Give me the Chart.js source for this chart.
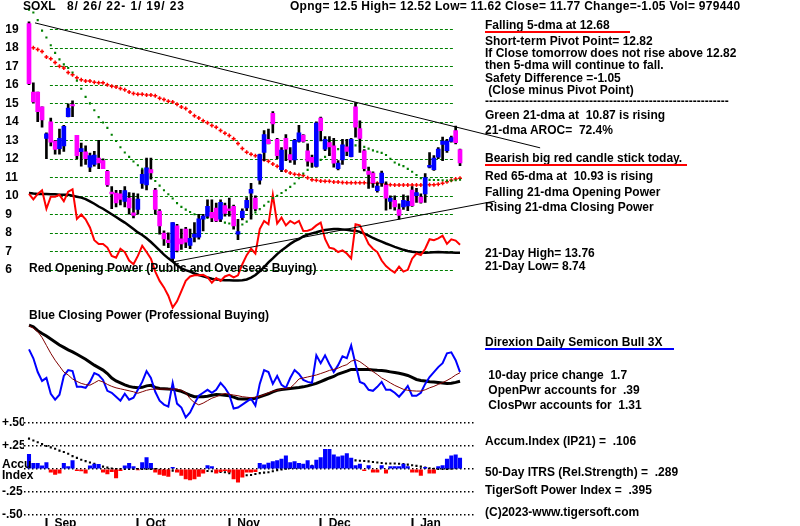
<!DOCTYPE html>
<html>
<head>
<meta charset="utf-8">
<script src="https://cdn.jsdelivr.net/npm/chart.js@4.4.1/dist/chart.umd.min.js"></script>
<style>
  body { margin: 0; background: #fff; overflow: hidden; }
  #wrap { position: relative; width: 800px; height: 526px; overflow: hidden; color: #000;
          font: bold 12px "Liberation Sans", Arial, sans-serif; }
  #wrap canvas { position: absolute; left: 0; top: 0; }
  .t { position: absolute; white-space: pre; line-height: 12px; }
  .ul { position: absolute; height: 2px; }
</style>
</head>
<body>
<div id="wrap">
  <canvas id="chart" width="800" height="548"></canvas>

  <div class="t" style="left:23px;top:0">SOXL</div>
  <div class="t" style="left:67px;top:0;letter-spacing:0.85px">8/ 26/ 22- 1/ 19/ 23</div>
  <div class="t" style="left:290px;top:0;letter-spacing:0.27px">Opng= 12.5 High= 12.52 Low= 11.62 Close= 11.77 Change=-1.05 Vol= 979440</div>

  <div class="t" style="left:485px;top:19px">Falling 5-dma at 12.68</div>
  <div class="ul" style="left:485px;top:31px;width:145px;background:#f00"></div>
  <div class="t" style="left:485px;top:34.6px">Short-term Pivot Point= 12.82</div>
  <div class="t" style="left:485px;top:46.9px">If Close tomorrow does not rise above 12.82</div>
  <div class="t" style="left:485px;top:58.6px">then 5-dma will continue to fall.</div>
  <div class="t" style="left:485px;top:71.9px">Safety Difference =-1.05</div>
  <div class="t" style="left:485px;top:84.1px"> (Close minus Pivot Point)</div>
  <div class="t" style="left:485px;top:95.2px">-------------------------------------------------------------</div>
  <div class="t" style="left:485px;top:109.1px">Green 21-dma at  10.87 is rising</div>
  <div class="t" style="left:485px;top:123.6px">21-dma AROC=  72.4%</div>
  <div class="t" style="left:485px;top:152.1px">Bearish big red candle stick today.</div>
  <div class="ul" style="left:485px;top:163.5px;width:202px;background:#f00"></div>
  <div class="t" style="left:485px;top:170px">Red 65-dma at  10.93 is rising</div>
  <div class="t" style="left:485px;top:186.3px">Falling 21-dma Opening Power</div>
  <div class="t" style="left:485px;top:201.3px">Rising 21-dma Closing Power</div>
  <div class="t" style="left:485px;top:246.6px">21-Day High= 13.76</div>
  <div class="t" style="left:485px;top:259.9px">21-Day Low= 8.74</div>
  <div class="t" style="left:485px;top:336.1px">Direxion Daily Semicon Bull 3X</div>
  <div class="ul" style="left:485px;top:347.7px;width:189px;background:#00f"></div>
  <div class="t" style="left:485px;top:369.4px"> 10-day price change  1.7</div>
  <div class="t" style="left:485px;top:383.6px"> OpenPwr accounts for  .39</div>
  <div class="t" style="left:485px;top:399.4px"> ClosPwr accounts for  1.31</div>
  <div class="t" style="left:485px;top:435.4px">Accum.Index (IP21) =  .106</div>
  <div class="t" style="left:485px;top:466.1px">50-Day ITRS (Rel.Strength) =  .289</div>
  <div class="t" style="left:485px;top:483.8px">TigerSoft Power Index =  .395</div>
  <div class="t" style="left:485px;top:505.6px">(C)2023-www.tigersoft.com</div>

  <div class="t" style="left:29px;top:262px">Red Opening Power (Public and Overseas Buying)</div>
  <div class="t" style="left:29px;top:309px">Blue Closing Power (Professional Buying)</div>
  <div class="t" style="left:2px;top:458px">Accu</div>
  <div class="t" style="left:2px;top:469px">Index</div>
</div>

<script>
// trading days 8/26/22 .. 1/19/23, one entry per day
const monthLabels = ['Sep', 'Oct', 'Nov', 'Dec', 'Jan'];
const monthStart = [4, 25, 46, 67, 88];

const priceTicks = [6, 7, 8, 9, 10, 11, 12, 13, 14, 15, 16, 17, 18, 19];
const accTicks = [-0.5, -0.25, 0, 0.25, 0.5];
const accTickLabels = ['-.50', '-.25', '', '+.25', '+.50'];

const opens = [19.3, 15.6, 15.6, 14.8, 13.1, 14.0, 12.95, 12.55, 12.7, 14.28,
  14.93, 13.26, 12.38, 12.38, 11.55, 11.7, 12.03, 11.9, 11.32, 10.2,
  10.14, 10.1, 9.7, 9.87, 9.08, 9.26, 10.67, 10.58, 11.41, 10.31,
  9.17, 7.99, 7.6, 6.61, 8.37, 7.67, 8.2, 7.32, 7.76, 7.76,
  8.73, 8.9, 9.1, 9.34, 8.73, 9.47, 9.3, 9.43, 7.93, 8.82,
  9.34, 10.14, 9.87, 10.84, 12.34, 13.05, 14.46, 13.05, 11.41, 13.1,
  12.22, 11.94, 12.93, 13.28, 12.43, 12.08, 11.58, 14.2, 12.52, 12.87,
  12.7, 11.46, 11.94, 12.64, 12.11, 14.81, 13.63, 12.43, 11.34, 11.23,
  10.28, 10.7, 10.58, 9.7, 9.75, 9.26, 9.4, 9.45, 10.31, 10.0,
  9.93, 10.1, 11.55, 11.41, 12.08, 12.78, 12.43, 12.93, 13.52, 12.5];
const highs = [19.4, 16.1, 15.6, 14.8, 13.4, 14.2, 13.0, 13.6, 13.8, 14.97,
  15.13, 13.26, 12.84, 12.7, 12.3, 12.4, 13.0, 12.0, 11.37, 10.49,
  10.3, 10.3, 10.49, 10.17, 10.14, 10.1, 11.4, 12.04, 12.04, 10.4,
  9.26, 8.11, 8.0, 8.55, 8.46, 8.2, 8.3, 8.2, 8.55, 9.0,
  9.0, 9.78, 9.78, 9.6, 9.78, 9.6, 9.87, 9.5, 8.73, 9.3,
  9.9, 10.67, 10.0, 12.25, 13.52, 13.6, 14.55, 13.1, 12.6, 13.3,
  12.6, 13.05, 13.8, 13.3, 12.8, 12.2, 14.0, 14.25, 13.2, 13.2,
  13.1, 11.9, 13.05, 13.05, 13.1, 15.04, 14.05, 12.5, 11.55, 11.3,
  10.7, 11.34, 10.75, 10.0, 10.0, 9.57, 10.05, 10.0, 10.5, 10.4,
  10.1, 11.2, 12.34, 12.17, 12.6, 13.17, 13.05, 13.23, 13.76, 12.52];
const lows = [16.0, 15.0, 14.0, 13.7, 12.0, 12.7, 12.25, 12.25, 12.4, 14.26,
  14.28, 12.0, 11.6, 11.7, 11.3, 11.6, 11.46, 11.46, 10.5, 9.3,
  9.4, 9.5, 9.4, 9.0, 8.81, 9.0, 10.4, 10.32, 10.9, 9.0,
  7.93, 7.32, 7.2, 6.45, 6.96, 7.1, 7.2, 7.14, 7.5, 7.66,
  8.1, 8.82, 8.6, 8.6, 8.6, 8.9, 8.9, 8.2, 7.63, 8.7,
  9.2, 8.73, 9.2, 10.63, 11.9, 12.8, 13.4, 12.0, 11.3, 11.9,
  11.8, 11.7, 12.9, 12.9, 11.6, 11.55, 11.55, 12.96, 12.43, 12.17,
  11.55, 11.4, 11.7, 12.17, 12.1, 13.17, 12.34, 11.34, 10.4, 10.45,
  10.2, 10.5, 9.22, 9.29, 9.22, 8.74, 9.26, 9.2, 9.43, 9.64,
  9.6, 9.64, 11.5, 11.37, 12.0, 11.9, 12.34, 12.9, 12.8, 11.62];
const closes = [16.05, 15.07, 14.55, 14.1, 13.35, 12.9, 12.5, 13.1, 13.75, 14.74,
  14.86, 12.17, 12.55, 12.0, 12.17, 12.2, 11.78, 11.46, 10.58, 10.1,
  9.61, 9.8, 10.28, 9.34, 8.94, 9.82, 11.16, 11.51, 11.23, 9.26,
  8.37, 7.67, 7.46, 8.55, 7.05, 7.4, 7.49, 7.7, 7.93, 8.76,
  8.9, 9.43, 8.8, 8.64, 9.64, 9.04, 9.2, 8.37, 8.06, 9.17,
  9.75, 10.35, 9.29, 12.22, 13.31, 12.82, 13.88, 12.17, 12.47, 12.52,
  11.94, 13.0, 13.4, 12.93, 11.87, 11.8, 13.93, 13.52, 13.05, 12.64,
  11.76, 11.76, 12.75, 12.4, 13.05, 13.7, 13.1, 11.46, 11.16, 10.7,
  10.52, 11.23, 9.87, 9.87, 9.4, 8.94, 9.75, 9.7, 9.47, 10.17,
  9.64, 10.98, 11.64, 12.04, 12.52, 12.96, 12.96, 13.14, 12.87, 11.77];

// green 21-dma (dots) and red 65-dma (crosses)
const ma21 = [20.05, 19.9, 19.49, 18.92, 18.55, 18.13, 17.72, 17.37, 17.1, 16.9,
  16.66, 16.22, 15.78, 15.34, 14.99, 14.62, 14.25, 13.96, 13.67, 13.3,
  12.96, 12.62, 12.34, 12.1, 11.85, 11.65, 11.45, 11.22, 11.0, 10.8,
  10.55, 10.3, 10.08, 9.85, 9.6, 9.4, 9.25, 9.12, 9.0, 8.9,
  8.85, 8.8, 8.75, 8.7, 8.65, 8.55, 8.5, 8.42, 8.38, 8.45,
  8.6, 8.9, 9.1, 9.28, 9.47, 9.68, 9.87, 10.0, 10.15, 10.3,
  10.48, 10.66, 10.95, 11.2, 11.4, 11.58, 11.76, 11.94, 12.1, 12.25,
  12.42, 12.52, 12.6, 12.65, 12.72, 12.72, 12.68, 12.64, 12.55, 12.45,
  12.38, 12.32, 12.2, 12.0, 11.8, 11.68, 11.6, 11.45, 11.3, 11.12,
  10.95, 10.88, 10.86, 10.85, 10.85, 10.84, 10.82, 10.82, 10.84, 10.87];
const ma65 = [null, 18.0, 17.9, 17.8, 17.5, 17.4, 17.2, 17.0, 16.9, 16.66,
  16.54, 16.38, 16.27, 16.2, 16.2, 16.13, 16.1, 16.1, 16.0, 15.92,
  15.87, 15.8, 15.73, 15.6, 15.53, 15.48, 15.48, 15.45, 15.45, 15.4,
  15.27, 15.2, 15.1, 15.07, 14.95, 14.8, 14.72, 14.53, 14.33, 14.2,
  14.05, 13.95, 13.8, 13.7, 13.53, 13.38, 13.26, 13.08, 12.83, 12.55,
  12.35, 12.24, 12.16, 12.08, 11.95, 11.87, 11.72, 11.6, 11.47, 11.34,
  11.23, 11.16, 11.14, 11.1, 10.98, 10.86, 10.84, 10.8, 10.79, 10.78,
  10.75, 10.74, 10.72, 10.71, 10.7, 10.7, 10.7, 10.7, 10.69, 10.68,
  10.67, 10.66, 10.62, 10.6, 10.58, 10.58, 10.58, 10.58, 10.58, 10.58,
  10.58, 10.59, 10.6, 10.6, 10.62, 10.67, 10.76, 10.84, 10.9, 10.95];

// red Opening Power and its 21-dma, drawn in the price pane
const openPower = [10.1, 9.8, 10.1, 10.3, 9.3, 9.95, 9.95, 10.05, 9.7, 10.22,
  10.35, 8.75, 8.99, 8.73, 8.29, 7.6, 7.4, 7.4, 7.2, 6.75,
  6.65, 7.14, 6.96, 6.5, 6.3, 6.75, 7.3, 6.96, 6.6, 5.9,
  5.4, 5.05, 4.6, 3.96, 4.3, 4.85, 5.4, 5.64, 5.7, 5.7,
  5.73, 5.6, 5.3, 5.55, 5.4, 5.64, 5.73, 5.59, 5.7, 6.3,
  6.79, 7.14, 6.88, 8.2, 8.64, 8.46, 10.05, 8.5, 8.82, 8.4,
  8.64, 8.5, 8.64, 8.1, 8.11, 8.2, 8.4, 8.55, 7.67, 7.2,
  7.14, 6.96, 7.05, 6.88, 6.61, 8.46, 8.4, 7.9, 7.4, 7.14,
  6.96, 6.5, 6.2, 6.0, 5.85, 6.17, 5.9, 6.0, 6.6, 6.88,
  6.8, 7.14, 7.65, 7.6, 7.7, 7.84, 7.4, 7.65, 7.58, 7.35];
const openPowerMa = [10.15, 10.12, 10.1, 10.1, 10.1, 10.08, 10.08, 10.05, 10.05, 10.05,
  10.0, 9.95, 9.9, 9.82, 9.7, 9.57, 9.42, 9.3, 9.15, 9.0,
  8.85, 8.7, 8.55, 8.38, 8.2, 8.02, 7.88, 7.7, 7.5, 7.28,
  7.05, 6.82, 6.62, 6.45, 6.25, 6.08, 5.98, 5.9, 5.8, 5.72,
  5.65, 5.58, 5.52, 5.47, 5.45, 5.44, 5.44, 5.42, 5.42, 5.44,
  5.48, 5.58, 5.72, 5.92, 6.15, 6.4, 6.62, 6.85, 7.05, 7.22,
  7.4, 7.55, 7.66, 7.8, 7.9, 7.97, 8.03, 8.1, 8.15, 8.18,
  8.2, 8.2, 8.18, 8.16, 8.13, 8.11, 8.05, 7.95, 7.85, 7.72,
  7.62, 7.52, 7.42, 7.33, 7.24, 7.16, 7.08, 7.02, 6.98, 6.95,
  6.93, 6.92, 6.93, 6.95, 6.96, 6.95, 6.93, 6.93, 6.92, 6.92];

// trendlines: [start, end] in day index and price
const trendDownX = [1.38, 117.4];
const trendDownY = [19.34, 12.59];
const trendUpX = [33.15, 107.0];
const trendUpY = [6.43, 9.71];

// Closing Power pane (relative units 0..100)
const closePower = [71, 62, 48, 39, 42, 26, 20, 25, 44, 50,
  49, 33, 33, 32, 38, 47, 45, 40, 29, 27,
  23, 19, 26, 20, 22, 30, 38, 49, 42, 28,
  19, 15, 13, 37, 16, 12, 2, 7, 16, 24,
  27, 30, 27, 30, 37, 32, 25, 11, 12, 15,
  18, 21, 14, 36, 50, 48, 36, 44, 35, 32,
  42, 50, 46, 40, 38, 37, 65, 57, 65, 56,
  48, 55, 64, 62, 75, 56, 38, 36, 30, 29,
  33, 38, 30, 30, 27, 23, 28, 34, 24, 24,
  27, 36, 43, 48, 53, 57, 67, 68, 60, 48];
const closePowerFast = [95, 92.5, 89, 83, 75, 67, 60, 54, 48, 45,
  41, 38.5, 36.5, 35.3, 34.7, 37, 39.5, 38, 35.5, 33.5,
  32, 31, 30, 29, 28, 26.5, 28, 29.5, 30.5, 30.7,
  30.7, 30.7, 30.7, 30.7, 30.7, 29.5, 27, 21, 17, 14.7,
  16.5, 19, 21.5, 23, 25, 26.3, 25.5, 24.7, 24, 23,
  22.5, 22, 22.5, 23.5, 25, 27, 28.5, 29.5, 30.5, 31.5,
  32, 36, 41, 42, 43, 44, 45, 46.5, 48, 49.7,
  50.7, 52, 54, 55.5, 59, 60.5, 58.5, 55.3, 52, 48.5,
  45.5, 42, 39.7, 37, 34.5, 32.5, 30.5, 29.5, 29, 28.7,
  28.7, 30, 32, 33.5, 35.5, 37.3, 39.5, 42, 45, 47.3];
const closePowerMa = [95.5, 94, 90, 87, 84.5, 81.5, 78.5, 75.5, 73, 70.5,
  68.5, 66, 63.5, 61, 58, 55, 52.5, 50, 46.5, 42,
  39, 37, 35, 33.5, 32.5, 32, 32.5, 34, 34.5, 32.5,
  31.3, 31, 30.7, 30.5, 29.5, 28.5, 26.5, 24.5, 23, 23,
  23, 23.5, 24.5, 25.3, 25, 24.5, 24, 22.5, 21, 20.7,
  20.7, 20.7, 21.5, 23, 24.5, 26, 28, 29.5, 30.3, 30.8,
  31.3, 31.8, 32.3, 33, 34, 35.3, 36.5, 38.3, 40.2, 42,
  43.5, 46, 47.5, 49, 50.7, 50.7, 50.7, 50.7, 50.5, 50.2,
  49.8, 49.5, 49, 48.2, 47.5, 46.8, 45.7, 44.5, 42.5, 40.5,
  39.5, 39, 38.2, 37.8, 37.3, 36.8, 36.3, 36.6, 37.5, 38.7];

// Accumulation index (IP21) bars and its dotted average
const accum = [0.16, 0.06, 0.06, 0.035, 0.07, -0.035, -0.06, -0.045, 0.06, 0.025,
  0.09, -0.018, -0.02, -0.045, 0.035, 0.054, 0.05, -0.035, -0.054, -0.03,
  -0.096, -0.018, 0.035, 0.06, 0.025, -0.01, 0.07, 0.125, 0.06, -0.036,
  -0.06, -0.07, -0.08, 0.018, -0.036, -0.07, -0.107, -0.118, -0.107, -0.08,
  -0.046, 0.036, 0.025, -0.046, -0.03, -0.018, -0.035, -0.107, -0.143, -0.09,
  -0.036, -0.036, -0.03, 0.06, 0.046, 0.064, 0.08, 0.09, 0.107, 0.143,
  0.07, 0.08, 0.06, 0.054, 0.09, 0.036, 0.096, 0.125, 0.214, 0.214,
  0.154, 0.132, 0.143, 0.168, 0.118, 0.036, 0.054, -0.018, 0.036, -0.036,
  -0.036, 0.036, -0.046, 0.025, 0.025, 0.025, 0.054, 0.025, -0.036, -0.036,
  -0.07, 0.018, -0.046, -0.046, 0.025, 0.036, 0.107, 0.143, 0.154, 0.118];
const accumMa = [0.33, 0.31, 0.29, 0.27, 0.25, 0.235, 0.22, 0.2, 0.185, 0.165,
  0.14, 0.12, 0.1, 0.085, 0.07, 0.055, 0.04, 0.025, 0.015, 0.005,
  0, 0, 0, 0, 0, 0, 0, 0, 0, 0,
  -0.01, -0.012, -0.015, -0.018, -0.02, -0.022, -0.025, -0.022, -0.02, -0.018,
  -0.02, -0.022, -0.025, -0.028, -0.032, -0.036, -0.045, -0.054, -0.06, -0.065,
  -0.068, -0.065, -0.055, -0.045, -0.04, -0.036, -0.025, -0.012, -0.005, 0.003,
  0.01, 0.015, 0.018, 0.022, 0.025, 0.033, 0.04, 0.05, 0.058, 0.064,
  0.07, 0.08, 0.09, 0.092, 0.094, 0.093, 0.09, 0.086, 0.082, 0.076,
  0.07, 0.065, 0.06, 0.06, 0.06, 0.057, 0.054, 0.047, 0.04, 0.033,
  0.025, 0.015, 0.008, 0.002, 0, 0, 0, 0.003, 0.008, 0.018];

const FONT = { family: '"Liberation Sans", Arial, sans-serif', size: 12, weight: 'bold' };
const BLUE = '#0000ff', MAGENTA = '#ff00ff', RED = '#ff0000', GREEN = '#008000';

const xy = arr => arr.map((v, i) => ({ x: i, y: v }));
const pair = (xs, ys) => xs.map((x, i) => ({ x: x, y: ys[i] }));

// green dashed price grid, only across the middle of the pane like the original
const GRID_FROM = 4.8, GRID_TO = 97.4;
const priceGrid = {
  id: 'priceGrid',
  beforeDatasetsDraw(chart) {
    const { ctx, scales } = chart;
    const x0 = scales.x.getPixelForValue(GRID_FROM);
    const x1 = scales.x.getPixelForValue(GRID_TO);
    ctx.save();
    ctx.strokeStyle = GREEN;
    ctx.lineWidth = 1;
    ctx.setLineDash([3, 2]);
    scales.yp.ticks.forEach(t => {
      const y = Math.round(scales.yp.getPixelForValue(t.value)) + 0.5;
      ctx.beginPath();
      ctx.moveTo(x0, y);
      ctx.lineTo(x1, y);
      ctx.stroke();
    });
    ctx.restore();
  }
};

const lineDs = (data, axis, color, width, order, extra) => Object.assign({
  type: 'line', data: data, yAxisID: axis, borderColor: color, borderWidth: width,
  pointRadius: 0, tension: 0, fill: false, order: order
}, extra || {});

new Chart(document.getElementById('chart'), {
  type: 'line',
  data: {
    datasets: [
      {
        type: 'bar', yAxisID: 'yp', order: 1, grouped: false, barThickness: 4,
        data: closes.map((c, i) => ({ x: i, y: [opens[i], c] })),
        backgroundColor: closes.map((c, i) => c >= opens[i] ? BLUE : MAGENTA)
      },
      {
        type: 'bar', yAxisID: 'yp', order: 2, grouped: false, barThickness: 2,
        data: lows.map((l, i) => ({ x: i, y: [l, highs[i]] })),
        backgroundColor: '#000'
      },
      lineDs(xy(ma21), 'yp', GREEN, 0, 3, {
        showLine: false, pointRadius: 1.5, pointStyle: 'rect',
        pointBackgroundColor: GREEN, pointBorderWidth: 0
      }),
      lineDs(xy(ma65), 'yp', RED, 0, 4, {
        showLine: false, pointRadius: 2, pointStyle: 'cross',
        pointBorderColor: RED, pointBorderWidth: 1.5
      }),
      lineDs(pair(trendDownX, trendDownY), 'yp', '#000', 1, 5, { clip: false }),
      lineDs(pair(trendUpX, trendUpY), 'yp', '#000', 1, 5, { clip: false }),
      lineDs(xy(openPower), 'yp', RED, 2, 6),
      lineDs(xy(openPowerMa), 'yp', '#000', 2.5, 7),

      lineDs(xy(closePowerFast), 'yc', '#800000', 1, 8),
      lineDs(xy(closePower), 'yc', BLUE, 2, 9),
      lineDs(xy(closePowerMa), 'yc', '#000', 3, 10),

      {
        type: 'bar', yAxisID: 'ya', order: 11, grouped: false, barThickness: 3.4,
        data: xy(accum),
        backgroundColor: accum.map(v => v >= 0 ? BLUE : RED)
      },
      lineDs(xy(accumMa), 'ya', '#000', 0, 12, {
        showLine: false, pointRadius: 1.5, pointStyle: 'rect',
        pointBackgroundColor: '#000', pointBorderWidth: 0
      })
    ]
  },
  options: {
    responsive: false,
    animation: false,
    events: [],
    layout: { padding: { left: 2, right: 324, top: 0, bottom: 0 } },
    plugins: { legend: { display: false }, tooltip: { enabled: false } },
    scales: {
      x: {
        type: 'linear', min: -1.149, max: 102.67, offset: false,
        afterBuildTicks: s => { s.ticks = monthStart.map(v => ({ value: v })); },
        afterFit: s => { s.height = 30; },
        border: { display: false },
        grid: { offset: false, drawOnChartArea: false, drawTicks: true, tickLength: 10, tickWidth: 2, tickColor: '#000' },
        ticks: {
          autoSkip: false, maxRotation: 0, align: 'start', labelOffset: 8, padding: -12,
          color: '#000', font: FONT, callback: (v, i) => monthLabels[i]
        }
      },
      yp: {
        type: 'linear', position: 'left', stack: 'panes', stackWeight: 318, weight: 3,
        min: 3.246, max: 20.188,
        afterBuildTicks: s => { s.ticks = priceTicks.map(v => ({ value: v })); },
        afterFit: s => { s.width = 22; },
        grid: { display: false }, border: { display: false },
        ticks: { autoSkip: false, crossAlign: 'far', padding: 0, color: '#000', font: FONT, callback: v => ' ' + v }
      },
      yc: {
        type: 'linear', position: 'left', stack: 'panes', stackWeight: 100, weight: 2,
        min: 0, max: 100,
        afterFit: s => { s.width = 22; },
        grid: { display: false }, border: { display: false },
        ticks: { display: false }
      },
      ya: {
        type: 'linear', position: 'left', stack: 'panes', stackWeight: 100, weight: 1,
        min: -0.533, max: 0.539,
        afterBuildTicks: s => { s.ticks = accTicks.map(v => ({ value: v })); },
        afterFit: s => { s.width = 22; },
        grid: { color: '#000', lineWidth: 1.5, drawTicks: false },
        border: { display: false, dash: [1.5, 2.5] },
        ticks: {
          autoSkip: false, crossAlign: 'far', padding: 0, color: '#000', font: FONT,
          callback: (v, i) => accTickLabels[i]
        }
      }
    }
  },
  plugins: [priceGrid]
});
</script>
</body>
</html>
